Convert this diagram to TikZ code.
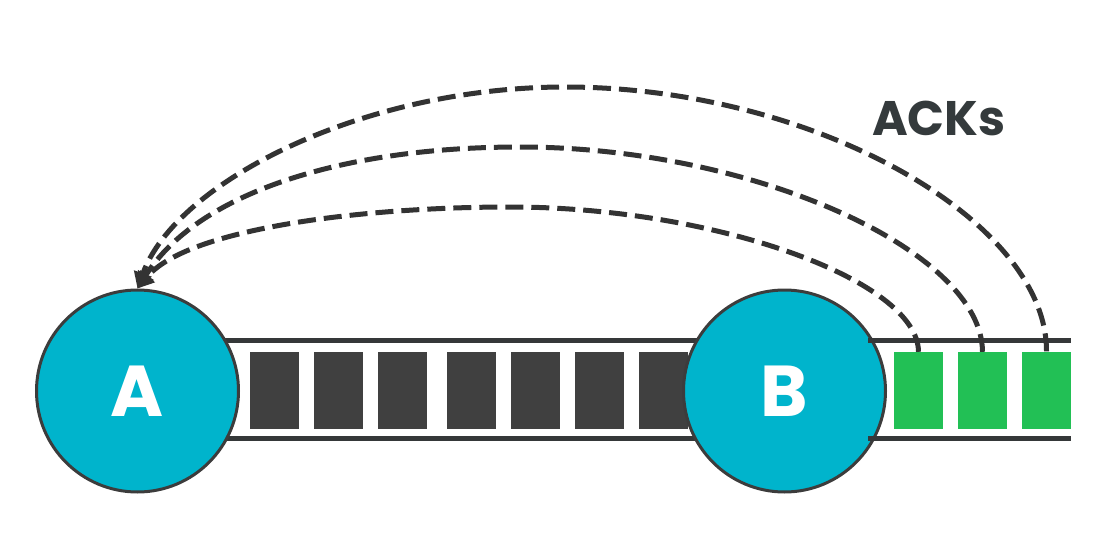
\documentclass[tikz,border=0pt]{standalone}
\usepackage{fontspec}
\setmainfont{Poppins}
\usetikzlibrary{arrows.meta}
\definecolor{nodefill}{HTML}{00B4CC}
\definecolor{nodeedge}{HTML}{3C3C3C}
\definecolor{pkt}{HTML}{404040}
\definecolor{pipec}{HTML}{353839}
\definecolor{ackgreen}{HTML}{22C055}
\definecolor{dashc}{HTML}{333333}
\definecolor{labelc}{HTML}{343A3C}
\tikzset{
  host/.style={circle, fill=nodefill, draw=nodeedge, line width=3pt, minimum size=202pt, inner sep=0pt,
    text=white, font=\bfseries\fontsize{72}{72}\selectfont},
  packet/.style={rectangle, fill=pkt, minimum width=49pt, minimum height=77pt, inner sep=0pt},
  ackbox/.style={rectangle, fill=ackgreen, minimum width=49pt, minimum height=77pt, inner sep=0pt},
  pipeline/.style={draw=pipec, line width=4.8pt},
  ackline/.style={draw=dashc, line width=5pt, dash pattern=on 18pt off 8pt, -{Triangle[length=16pt,width=18pt]}},
}
\begin{document}
\begin{tikzpicture}[x=1pt,y=-1pt]
\useasboundingbox (0,0) rectangle (1096,541);
% pipe between hosts
\coordinate (pl1) at (137.5,340.8);
\coordinate (pr1) at (784.5,340.8);
\coordinate (pl2) at (137.5,438.3);
\coordinate (pr2) at (784.5,438.3);
\draw[pipeline] (pl1) -- (pr1);
\draw[pipeline] (pl2) -- (pr2);
% packets
\node[packet] (d1) at (274.5,390.5) {};
\node[packet] (d2) at (338.5,390.5) {};
\node[packet] (d3) at (402.5,390) {};
\node[packet] (d4) at (471.5,390.5) {};
\node[packet] (d5) at (535.5,390.5) {};
\node[packet] (d6) at (599.5,390) {};
\node[packet] (d7) at (663.5,390) {};
% hosts
\node[host] (A) at (137.5,391) {A};
\node[host] (B) at (784.5,391) {B};
% pipe right of B
\coordinate (ql1) at (868,340.8);
\coordinate (qr1) at (1071,340.8);
\coordinate (ql2) at (868,438.3);
\coordinate (qr2) at (1071,438.3);
\draw[pipeline] (ql1) -- (qr1);
\draw[pipeline] (ql2) -- (qr2);
% acks
\node[ackbox] (g1) at (918.5,390.5) {};
\node[ackbox] (g2) at (982.5,390.5) {};
\node[ackbox] (g3) at (1046.5,390) {};
% dashed ack arcs
\draw[ackline] (g1.north) .. controls (918,280) and (714,207) .. (510,207)
   .. controls (360,207) and (187,229) .. (A.north);
\draw[ackline] (g2.north) .. controls (982,250) and (751,147) .. (520,147)
   .. controls (340,147) and (197,194) .. (A.north);
\draw[ackline] (g3.north) .. controls (1047,220) and (813,87) .. (565,87)
   .. controls (365,87) and (176,181) .. (A.north);
% label
\node[anchor=base west, inner sep=0pt, text=labelc, font=\bfseries\fontsize{48.5}{50}\selectfont] (ack) at (872,135) {ACKs};
\end{tikzpicture}
\end{document}
